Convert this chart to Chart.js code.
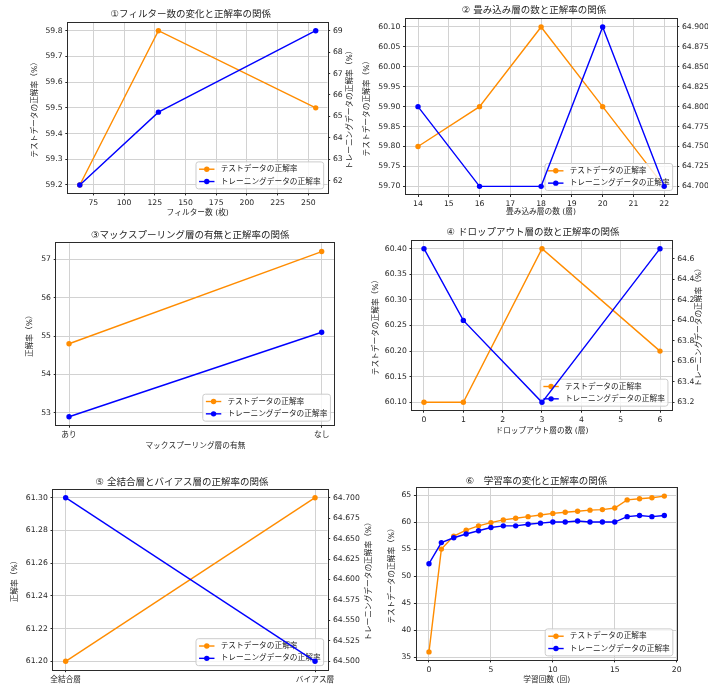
<!DOCTYPE html>
<html><head><meta charset="utf-8">
<script src="https://cdn.jsdelivr.net/npm/chart.js@4.4.0/dist/chart.umd.min.js"></script>
<style>
html,body{margin:0;padding:0;background:#fff;}
#wrap{position:relative;width:708px;height:686px;overflow:hidden;background:#fff;}
#wrap canvas{position:absolute;}
</style></head><body>
<div id="wrap">
<canvas id="c1"></canvas><canvas id="c2"></canvas><canvas id="c3"></canvas>
<canvas id="c4"></canvas><canvas id="c5"></canvas><canvas id="c6"></canvas>
</div>
<script>
const FONT="'DejaVu Sans','Noto Sans CJK JP',sans-serif";
const COL={test:"#ff8c00",train:"#0000ff",grid:"#d2d2d2",axis:"#2b2b2b",text:"#262626"};
const TEST_LABEL="テストデータの正解率";
const TRAIN_LABEL="トレーニングデータの正解率";

// ① filters
const filterCounts=[64,128,256];
const filterTest=[59.2,59.8,59.5];
const filterTrain=[61.8,65.2,69.0];
const filterXTicks=[75,100,125,150,175,200,225,250];
const filterTestTicks=[59.2,59.3,59.4,59.5,59.6,59.7,59.8];
const filterTrainTicks=[62,63,64,65,66,67,68,69];
// ② conv layers
const convLayers=[14,16,18,20,22];
const convTest=[59.80,59.90,60.10,59.90,59.70];
const convTrain=[64.80,64.70,64.70,64.90,64.70];
const convXTicks=[14,15,16,17,18,19,20,21,22];
const convTestTicks=[59.70,59.75,59.80,59.85,59.90,59.95,60.00,60.05,60.10];
const convTrainTicks=[64.700,64.725,64.750,64.775,64.800,64.825,64.850,64.875,64.900];
// ③ max pooling
const poolCats=["あり","なし"];
const poolTest=[54.8,57.2];
const poolTrain=[52.9,55.1];
const poolYTicks=[53,54,55,56,57];
// ④ dropout
const dropLayers=[0,1,3,6];
const dropTest=[60.10,60.10,60.40,60.20];
const dropTrain=[64.7,64.0,63.2,64.7];
const dropXTicks=[0,1,2,3,4,5,6];
const dropTestTicks=[60.10,60.15,60.20,60.25,60.30,60.35,60.40];
const dropTrainTicks=[63.2,63.4,63.6,63.8,64.0,64.2,64.4,64.6];
// ⑤ dense / bias
const denseCats=["全結合層","バイアス層"];
const denseTest=[61.20,61.30];
const denseTrain=[64.70,64.50];
const denseTestTicks=[61.20,61.22,61.24,61.26,61.28,61.30];
const denseTrainTicks=[64.500,64.525,64.550,64.575,64.600,64.625,64.650,64.675,64.700];
// ⑥ epochs
const epochs=[0,1,2,3,4,5,6,7,8,9,10,11,12,13,14,15,16,17,18,19];
const epochTest=[36.0,55.0,57.4,58.5,59.3,59.9,60.4,60.7,61.0,61.3,61.6,61.8,62.0,62.2,62.3,62.6,64.1,64.3,64.5,64.8];
const epochTrain=[52.3,56.2,57.1,57.8,58.4,59.0,59.3,59.3,59.6,59.8,60.0,60.0,60.2,60.0,60.0,60.0,61.0,61.2,61.0,61.2];
const epochXTicks=[0,5,10,15,20];
const epochYTicks=[35,40,45,50,55,60,65];

function lim(arr){const lo=Math.min(...arr),hi=Math.max(...arr),m=(hi-lo)*0.05;return[lo-m,hi+m];}
const fix=d=>v=>Number(v).toFixed(d);

function vtext(ctx,s,x,y){ctx.save();ctx.translate(x,y);ctx.rotate(-Math.PI/2);ctx.textAlign="center";ctx.textBaseline="middle";ctx.fillText(s,0,0);ctx.restore();}

function drawFrame(chart){
  const ctx=chart.ctx,a=chart.chartArea;
  ctx.save();ctx.strokeStyle=COL.axis;ctx.lineWidth=1;
  const l=Math.round(a.left)-0.5,t=Math.round(a.top)-0.5,r=Math.round(a.right)+0.5,b=Math.round(a.bottom)+0.5;
  ctx.strokeRect(l,t,r-l,b-t);ctx.restore();
}
function drawLegend(chart){
  const ctx=chart.ctx,a=chart.chartArea,fs=7.7;
  const ds=chart.data.datasets;
  ctx.save();
  ctx.font=fs+"px "+FONT;
  const tw=Math.max(...ds.map(d=>ctx.measureText(d.label).width));
  const bp=0.4*fs,ls=0.5*fs,hl=2*fs,htp=0.8*fs,bap=0.5*fs,rh=fs*1.1;
  const w=2*bp+hl+htp+tw,h=2*bp+2*rh+ls;
  const x=a.right-bap-w,y=a.bottom-bap-h;
  ctx.fillStyle="rgba(255,255,255,0.8)";ctx.strokeStyle="#cccccc";ctx.lineWidth=1;
  ctx.beginPath();ctx.roundRect(x,y,w,h,2.5);ctx.fill();ctx.stroke();
  ds.forEach((d,i)=>{
    const cy=y+bp+rh/2+i*(rh+ls);
    ctx.strokeStyle=d.borderColor;ctx.lineWidth=1.4;
    ctx.beginPath();ctx.moveTo(x+bp,cy);ctx.lineTo(x+bp+hl,cy);ctx.stroke();
    ctx.fillStyle=d.borderColor;ctx.beginPath();ctx.arc(x+bp+hl/2,cy,2.7,0,Math.PI*2);ctx.fill();
    ctx.fillStyle=COL.text;ctx.textAlign="left";ctx.textBaseline="middle";
    ctx.fillText(d.label,x+bp+hl+htp,cy);
  });
  ctx.restore();
}

function axis(ticks,fmt,extra){
  return Object.assign({
    type:"linear",
    afterBuildTicks:s=>{s.ticks=ticks.map(v=>({value:v}));},
    ticks:{callback:fmt,autoSkip:false,maxRotation:0,padding:2.7,color:COL.text,font:{family:FONT,size:7.7}},
    grid:{color:COL.grid,lineWidth:1,tickColor:COL.axis,tickLength:2.7},
    border:{display:false}
  },extra);
}

function build(c){
  const cv=document.getElementById(c.id),B=c.box,P=c.plot;
  cv.width=B.w;cv.height=B.h;
  Object.assign(cv.style,{left:B.x+"px",top:B.y+"px",width:B.w+"px",height:B.h+"px"});
  const padL=P.l-B.x,padR=B.x+B.w-P.r,padT=P.t-B.y,padB=B.y+B.h-P.b;
  const twin=!!c.rightTicks;
  const [xmin,xmax]=c.xRange||lim(c.xs);
  const [ymin,ymax]=twin?lim(c.test):lim(c.test.concat(c.train));
  const scales={
    x:axis(c.xTicks,c.xFmt,{min:xmin,max:xmax,afterFit:s=>{s.height=padB;}}),
    y:axis(c.leftTicks,c.leftFmt,{min:ymin,max:ymax,position:"left",afterFit:s=>{s.width=padL;}})
  };
  if(twin){
    const [rmin,rmax]=lim(c.train);
    scales.y2=axis(c.rightTicks,c.rightFmt,{min:rmin,max:rmax,position:"right",afterFit:s=>{s.width=padR;}});
    scales.y2.grid.drawOnChartArea=false;
  }
  const line=(label,vals,color,yID,order)=>({label,data:c.xs.map((x,i)=>({x,y:vals[i]})),
    borderColor:color,backgroundColor:color,borderWidth:1.4,pointRadius:2.7,pointBorderWidth:0,
    pointBackgroundColor:color,tension:0,clip:false,yAxisID:yID,order});
  const ox=B.x,oy=B.y;
  const decor={id:"decor"+c.id,
    afterDatasetDraw(chart,args){if(twin&&args.index===0){drawFrame(chart);drawLegend(chart);}},
    afterDatasetsDraw(chart){if(!twin){drawFrame(chart);drawLegend(chart);}else drawFrame(chart);},
    afterDraw(chart){
      const ctx=chart.ctx;ctx.save();ctx.fillStyle=COL.text;
      ctx.font="9.5px "+FONT;ctx.textAlign="center";ctx.textBaseline="middle";
      ctx.fillText(c.title,c.titlePos[0]-ox,c.titlePos[1]-oy);
      ctx.font="7.7px "+FONT;
      const midY=(P.t+P.b)/2-oy;
      if(c.xTitle)ctx.fillText(c.xTitle,c.xTitlePos[0]-ox,c.xTitlePos[1]-oy);
      if(c.yTitle)vtext(ctx,c.yTitle,c.yTitleX-ox,midY);
      if(c.rTitle)vtext(ctx,c.rTitle,c.rTitleX-ox,midY);
      ctx.restore();
    }};
  new Chart(cv,{type:"line",
    data:{datasets:[line(TEST_LABEL,c.test,COL.test,"y",1),line(TRAIN_LABEL,c.train,COL.train,twin?"y2":"y",0)]},
    options:{responsive:false,animation:false,devicePixelRatio:1,events:[],
      layout:{autoPadding:false,padding:{top:padT,left:0,bottom:0,right:twin?0:padR}},
      plugins:{legend:{display:false},tooltip:{enabled:false}},scales},
    plugins:[decor]});
}

build({id:"c1",box:{x:0,y:0,w:354,h:228},plot:{l:68,r:327.5,t:23,b:192.7},
  xs:filterCounts,test:filterTest,train:filterTrain,
  xTicks:filterXTicks,xFmt:fix(0),leftTicks:filterTestTicks,leftFmt:fix(1),rightTicks:filterTrainTicks,rightFmt:fix(0),
  title:"①フィルター数の変化と正解率の関係",titlePos:[190.7,15],
  xTitle:"フィルター数 (枚)",xTitlePos:[197.7,213],
  yTitle:"テストデータの正解率（%）",yTitleX:35,rTitle:"トレーニングデータの正解率（%）",rTitleX:350});

build({id:"c2",box:{x:354,y:0,w:354,h:226},plot:{l:405.7,r:676.5,t:19,b:194.3},
  xs:convLayers,test:convTest,train:convTrain,
  xTicks:convXTicks,xFmt:fix(0),leftTicks:convTestTicks,leftFmt:fix(2),rightTicks:convTrainTicks,rightFmt:fix(3),
  title:"② 畳み込み層の数と正解率の関係",titlePos:[534,10.7],
  xTitle:"畳み込み層の数 (層)",xTitlePos:[541,212.3],
  yTitle:"テストデータの正解率（%）",yTitleX:367.3});

build({id:"c3",box:{x:0,y:226,w:354,h:236},plot:{l:56.4,r:334.3,t:243.3,b:425},
  xs:[0,1],xRange:[-0.05,1.05],test:poolTest,train:poolTrain,
  xTicks:[0,1],xFmt:v=>poolCats[v],leftTicks:poolYTicks,leftFmt:fix(0),
  title:"③マックスプーリング層の有無と正解率の関係",titlePos:[190.3,236],
  xTitle:"マックスプーリング層の有無",xTitlePos:[195.4,446],
  yTitle:"正解率（%）",yTitleX:30});

build({id:"c4",box:{x:354,y:222,w:354,h:238},plot:{l:412.2,r:671.8,t:241,b:410},
  xs:dropLayers,test:dropTest,train:dropTrain,
  xTicks:dropXTicks,xFmt:fix(0),leftTicks:dropTestTicks,leftFmt:fix(2),rightTicks:dropTrainTicks,rightFmt:fix(1),
  title:"④ ドロップアウト層の数と正解率の関係",titlePos:[533,233],
  xTitle:"ドロップアウト層の数 (層)",xTitlePos:[542,431],
  yTitle:"テストデータの正解率（%）",yTitleX:375.7,rTitle:"トレーニングデータの正解率（%）",rTitleX:699});

build({id:"c5",box:{x:0,y:470,w:380,h:216},plot:{l:53.2,r:327.5,t:489.5,b:669.5},
  xs:[0,1],xRange:[-0.05,1.05],test:denseTest,train:denseTrain,
  xTicks:[0,1],xFmt:v=>denseCats[v],leftTicks:denseTestTicks,leftFmt:fix(2),rightTicks:denseTrainTicks,rightFmt:fix(3),
  title:"⑤ 全結合層とバイアス層の正解率の関係",titlePos:[182,482.7],
  yTitle:"正解率（%）",yTitleX:15,rTitle:"トレーニングデータの正解率（%）",rTitleX:369});

build({id:"c6",box:{x:354,y:470,w:354,h:216},plot:{l:416.6,r:676.7,t:488.3,b:659.7},
  xs:epochs,xRange:[-1,20],test:epochTest,train:epochTrain,
  xTicks:epochXTicks,xFmt:fix(0),leftTicks:epochYTicks,leftFmt:fix(0),
  title:"⑥　学習率の変化と正解率の関係",titlePos:[536.5,481.7],
  xTitle:"学習回数 (回)",xTitlePos:[546.7,680],
  yTitle:"テストデータの正解率（%）",yTitleX:392.3});
</script>
</body></html>
